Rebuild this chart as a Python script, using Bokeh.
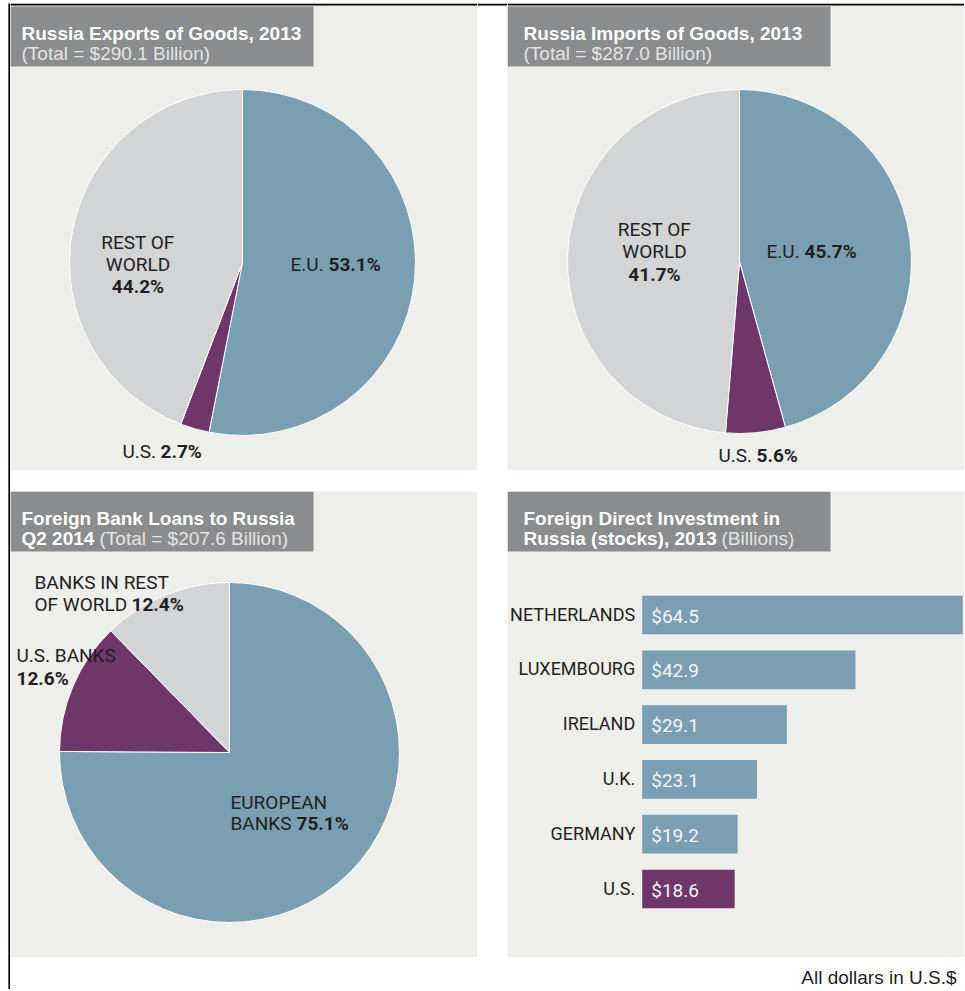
import math
from bokeh.plotting import figure
from bokeh.models import Range1d, Spacer
from bokeh.layouts import row, column
from bokeh.embed import file_html
from bokeh.resources import INLINE
from bokeh.core.properties import value

# ---------------- data ----------------
export_labels = ["E.U.", "U.S.", "REST OF WORLD"]
export_pct = [53.1, 2.7, 44.2]
import_labels = ["E.U.", "U.S.", "REST OF WORLD"]
import_pct = [45.7, 5.6, 41.7]
loan_labels = ["EUROPEAN BANKS", "U.S. BANKS", "BANKS IN REST OF WORLD"]
loan_pct = [75.1, 12.6, 12.4]
fdi_countries = ["NETHERLANDS", "LUXEMBOURG", "IRELAND", "U.K.", "GERMANY", "U.S."]
fdi_values = [64.5, 42.9, 29.1, 23.1, 19.2, 18.6]

export_total = 290.1
import_total = 287.0
loan_total = 207.6

# ---------------- style ----------------
BLUE = "#7b9fb2"
PURPLE = "#6f3669"
GREY = "#d2d4d6"
PANEL = "#eeeeea"
BOX = "#8a8c8e"
DARK = "#231f20"
SUB = "#e4e4e4"
SLICE_COLORS = [BLUE, PURPLE, GREY]
TITLE_FONT = value("Liberation Sans")
LABEL_FONT = value("Roboto")
LBL = "19px"


def base_fig(w, h, xr, yr, bg):
    p = figure(width=w, height=h, x_range=Range1d(*xr), y_range=Range1d(*yr),
               output_backend="svg", toolbar_location=None,
               x_axis_location=None, y_axis_location=None, min_border=0)
    p.background_fill_color = bg
    p.border_fill_color = bg
    p.outline_line_color = None
    p.grid.visible = False
    return p


def panel(w, h):
    return base_fig(w, h, (0, w), (0, h), PANEL)


def top_line(p, w, h):
    p.quad(left=[0], right=[w], top=[h], bottom=[h - 2], fill_color="black", line_color=None)


def txt(p, h, x, t, s, bold=False, font=LABEL_FONT, size=LBL, color=DARK, align="left"):
    p.text(x=[x], y=[h - t], text=[s], text_font=font, text_font_size=size,
           text_font_style="bold" if bold else "normal", text_color=color,
           text_align=align, text_baseline="alphabetic")


def title_box(p, h, bw, t0, t1):
    p.quad(left=[0], right=[bw], top=[h - t0], bottom=[h - t1], fill_color=BOX, line_color=None)


def pie(p, h, cx, cy, r, pct):
    starts, ends, c = [], [], 0.0
    for v in pct:
        starts.append(math.pi / 2 - 2 * math.pi * c / 100)
        c += v
        ends.append(math.pi / 2 - 2 * math.pi * c / 100)
    ends[-1] = math.pi / 2 - 2 * math.pi
    p.wedge(x=cx, y=h - cy, radius=r, start_angle=starts, end_angle=ends,
            direction="clock", fill_color=SLICE_COLORS, line_color="white", line_width=1)


# ---------------- top-left: exports ----------------
W1, H1 = 467, 467
p1 = panel(W1, H1)
top_line(p1, W1, H1)
title_box(p1, H1, 303, 3, 63)
txt(p1, H1, 11, 30, "Russia Exports of Goods, 2013", bold=True, font=TITLE_FONT, size="19px", color="white")
txt(p1, H1, 11, 50, f"(Total = ${export_total} Billion)", font=TITLE_FONT, size="19px", color=SUB)
pie(p1, H1, 232, 259, 173, export_pct)
txt(p1, H1, 127.5, 238.7, "REST OF", align="center")
txt(p1, H1, 127.5, 261, "WORLD", align="center")
txt(p1, H1, 127.5, 283, f"{export_pct[2]}%", bold=True, align="center")
txt(p1, H1, 280, 261, export_labels[0])
txt(p1, H1, 318, 261, f"{export_pct[0]}%", bold=True)
txt(p1, H1, 112, 447.7, export_labels[1])
txt(p1, H1, 150, 447.7, f"{export_pct[1]}%", bold=True)

# ---------------- gap between top panels ----------------
GW = 30
gap = base_fig(GW, H1, (0, GW), (0, H1), "white")
top_line(gap, GW, H1)

# ---------------- top-right: imports ----------------
W2, H2 = 457, 467
p2 = panel(W2, H2)
top_line(p2, W2, H2)
title_box(p2, H2, 323, 3, 63)
txt(p2, H2, 16, 30, "Russia Imports of Goods, 2013", bold=True, font=TITLE_FONT, size="19px", color="white")
txt(p2, H2, 16, 50, f"(Total = ${import_total} Billion)", font=TITLE_FONT, size="19px", color=SUB)
pie(p2, H2, 232, 258, 172, import_pct)
txt(p2, H2, 147, 226, "REST OF", align="center")
txt(p2, H2, 147, 248, "WORLD", align="center")
txt(p2, H2, 147, 271, f"{import_pct[2]}%", bold=True, align="center")
txt(p2, H2, 259, 248, import_labels[0])
txt(p2, H2, 297, 248, f"{import_pct[0]}%", bold=True)
txt(p2, H2, 211, 452, import_labels[1])
txt(p2, H2, 249, 452, f"{import_pct[1]}%", bold=True)

# ---------------- bottom-left: bank loans ----------------
W3, H3 = 467, 466
p3 = panel(W3, H3)
title_box(p3, H3, 303, 0, 60)
txt(p3, H3, 11, 27, "Foreign Bank Loans to Russia", bold=True, font=TITLE_FONT, size="19px", color="white")
txt(p3, H3, 11, 47, "Q2 2014", bold=True, font=TITLE_FONT, size="19px", color="white")
txt(p3, H3, 89, 47, f"(Total = ${loan_total} Billion)", font=TITLE_FONT, size="19px", color=SUB)
pie(p3, H3, 219, 261, 170, loan_pct)
txt(p3, H3, 24, 90.7, "BANKS IN REST")
txt(p3, H3, 24, 113, "OF WORLD")
txt(p3, H3, 121, 113, f"{loan_pct[2]}%", bold=True)
txt(p3, H3, 6, 164, "U.S. BANKS")
txt(p3, H3, 6, 186.7, f"{loan_pct[1]}%", bold=True)
txt(p3, H3, 220, 310.7, "EUROPEAN")
txt(p3, H3, 220, 332.3, "BANKS")
txt(p3, H3, 286, 332.3, f"{loan_pct[0]}%", bold=True)

# ---------------- bottom-right: FDI bars ----------------
W4, H4 = 457, 466
p4 = panel(W4, H4)
p4.extra_x_ranges = {"val": Range1d(-27.1, 64.84)}
p4.extra_y_ranges = {"cat": Range1d(6.25, -2.254)}
title_box(p4, H4, 323, 0, 60)
txt(p4, H4, 16, 27, "Foreign Direct Investment in", bold=True, font=TITLE_FONT, size="19px", color="white")
txt(p4, H4, 16, 47, "Russia (stocks), 2013", bold=True, font=TITLE_FONT, size="19px", color="white")
txt(p4, H4, 214, 47, "(Billions)", font=TITLE_FONT, size="19px", color=SUB)
ys = list(range(len(fdi_countries)))
bar_colors = [PURPLE if c == "U.S." else BLUE for c in fdi_countries]
p4.hbar(y=ys, left=0, right=fdi_values, height=0.706, fill_color=bar_colors, line_color=None,
        x_range_name="val", y_range_name="cat")
p4.text(x=0, y=ys, text=fdi_countries, x_offset=-7, y_offset=-1, text_align="right", text_baseline="middle",
        text_font=LABEL_FONT, text_font_size="18px", text_color=DARK,
        x_range_name="val", y_range_name="cat")
p4.text(x=0, y=ys, text=[f"${v}" for v in fdi_values], x_offset=9, y_offset=1, text_align="left",
        text_baseline="middle", text_font=LABEL_FONT, text_font_size="19px", text_color="#f2f4f5",
        x_range_name="val", y_range_name="cat")

# ---------------- footer ----------------
FW, FH = 954, 32
foot = base_fig(FW, FH, (0, FW), (0, FH), "white")
foot.text(x=[946], y=[12], text=["All dollars in U.S.$"], text_font=TITLE_FONT, text_font_size="19px",
          text_color=DARK, text_align="right", text_baseline="alphabetic")


def black_bar(w, h):
    b = base_fig(w, h, (0, 1), (0, 1), "black")
    b.quad(left=[0], right=[1], bottom=[0], top=[1], fill_color="black", line_color=None)
    return b


top_row = row(p1, gap, p2)
bottom_row = row(p3, Spacer(width=30, height=H3), p4)
main = column(top_row, Spacer(width=FW, height=21), bottom_row, foot)
BODY_H = H1 + 21 + H3 + FH
layout = column(
    Spacer(width=964, height=3),
    row(Spacer(width=8, height=BODY_H), black_bar(2, BODY_H), main),
)

open("out.html", "w").write(file_html(layout, INLINE))
